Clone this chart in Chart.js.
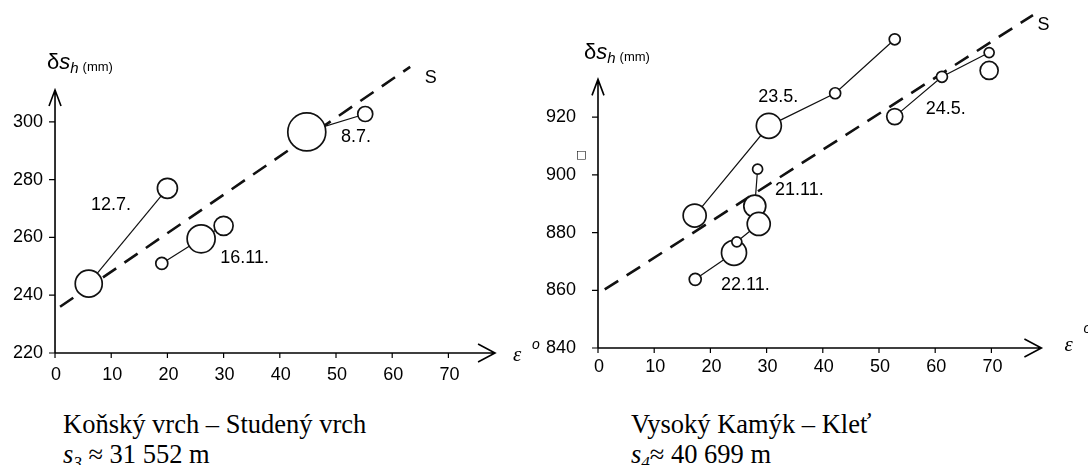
<!DOCTYPE html>
<html lang="cs">
<head>
<meta charset="UTF-8">
<title>δs_h – ε</title>
<script src="https://cdn.jsdelivr.net/npm/chart.js"></script>
<style>
  body { margin: 0; background: #fff; width: 1088px; height: 465px; position: relative; overflow: hidden; }
  canvas { position: absolute; top: 0; }
  .cap { position: absolute; font-family: "Liberation Serif", "Times New Roman", serif; font-size: 26.5px; line-height: 30px; color: #000; white-space: nowrap; }
  .cap sub { font-size: 17px; line-height: 0; vertical-align: -5px; font-style: italic; }
</style>
</head>
<body>
<canvas id="leftChart" width="540" height="400" style="left:0"></canvas>
<canvas id="rightChart" width="548" height="400" style="left:540px"></canvas>
<div class="cap" style="left:63px; top:409px">Koňský vrch – Studený vrch<br><i>s</i><sub>3</sub> ≈ 31 552 m</div>
<div class="cap" style="left:631px; top:409px">Vysoký Kamýk – Kleť<br><i>s</i><sub>4</sub>≈ 40 699 m</div>
<script>
// shared tick labels
const xTicks = [0, 10, 20, 30, 40, 50, 60, 70];
const leftYTicks = [220, 240, 260, 280, 300];
const rightYTicks = [840, 860, 880, 900, 920];

// Koňský vrch – Studený vrch (epsilon, delta s_h, circle size)
const k127Eps = [6, 20];
const k127Ds = [244, 277];
const k127Size = [13.5, 10];
const k1611Eps = [19, 26, 30];
const k1611Ds = [251, 259.5, 264];
const k1611Size = [6, 14, 9.5];
const k87Eps = [55.2, 44.8];
const k87Ds = [302.7, 296.5];
const k87Size = [7.5, 19];
const kSEps = [0.9, 63.2];
const kSDs = [236, 319];

// Vysoký Kamýk – Kleť
const v235Eps = [17.2, 30.4, 42.2, 52.8];
const v235Ds = [885.9, 917, 928.3, 947];
const v235Size = [11.5, 12.5, 5.5, 5.5];
const v245Eps = [52.8, 61.2, 69.6];
const v245Ds = [920.2, 934, 942.4];
const v245Size = [8, 5.5, 5];
const v245bEps = [69.6];
const v245bDs = [936.2];
const v245bSize = [9];
const v2111Eps = [28.4, 27.9, 28.6, 24.7];
const v2111Ds = [902, 889.2, 883, 876.8];
const v2111Size = [5, 11, 11.5, 5];
const v2211Eps = [24.2, 17.3];
const v2211Ds = [873, 863.8];
const v2211Size = [12.5, 6];
const vSEps = [1.2, 77.4];
const vSDs = [860.3, 955.4];

const FONT = '"Liberation Sans", Arial, sans-serif';

function pts(xs, ys) {
  return xs.map((x, i) => ({ x: x, y: ys[i] }));
}

function group(xs, ys, sizes) {
  return {
    data: pts(xs, ys),
    showLine: true,
    borderColor: '#111',
    borderWidth: 1.2,
    pointRadius: sizes,
    pointBorderWidth: 1.7,
    pointBorderColor: '#111',
    pointBackgroundColor: '#fff'
  };
}

function trend(xs, ys) {
  return {
    data: pts(xs, ys),
    showLine: true,
    borderColor: '#111',
    borderWidth: 2.6,
    borderDash: [16, 10],
    pointRadius: 0
  };
}

// axes with arrows, ticks and notes drawn on the chart's own scales
const sketchAxes = {
  id: 'sketchAxes',
  beforeDatasetsDraw(chart, args, o) {
    const ctx = chart.ctx;
    const xs = chart.scales.x, ys = chart.scales.y;
    const x0 = xs.getPixelForValue(0);
    const y0 = ys.getPixelForValue(o.yTicks[0]);
    const xEnd = xs.getPixelForValue(o.xArrow);
    const yEnd = ys.getPixelForValue(o.yArrow);
    ctx.save();
    ctx.strokeStyle = '#000';
    ctx.lineWidth = 1.6;
    ctx.beginPath();
    ctx.moveTo(x0, y0); ctx.lineTo(xEnd, y0);
    ctx.moveTo(x0, y0); ctx.lineTo(x0, yEnd);
    ctx.moveTo(xEnd - 17, y0 - 9); ctx.lineTo(xEnd, y0); ctx.lineTo(xEnd - 17, y0 + 9);
    ctx.moveTo(x0 - 6, yEnd + 16); ctx.lineTo(x0, yEnd); ctx.lineTo(x0 + 6, yEnd + 16);
    ctx.stroke();
    ctx.lineWidth = 1.2;
    ctx.beginPath();
    xTicks.forEach(v => { const p = xs.getPixelForValue(v); ctx.moveTo(p, y0); ctx.lineTo(p, y0 + 5); });
    o.yTicks.forEach(v => { const p = ys.getPixelForValue(v); ctx.moveTo(x0 - 6, p); ctx.lineTo(x0, p); });
    ctx.stroke();

    ctx.fillStyle = '#000';
    ctx.font = '18px ' + FONT;
    ctx.textBaseline = 'middle';
    ctx.textAlign = 'center';
    xTicks.forEach(v => ctx.fillText(String(v), xs.getPixelForValue(v) + 1, y0 + o.xLabelGap));
    ctx.textAlign = 'right';
    o.yTicks.forEach(v => ctx.fillText(String(v), x0 - o.yLabelGap, ys.getPixelForValue(v)));

    // axis titles
    ctx.textAlign = 'left';
    ctx.textBaseline = 'alphabetic';
    let tx = x0 + o.titleDx, ty = yEnd + o.titleDy;
    ctx.font = '22px ' + FONT;
    ctx.fillText('δ', tx, ty);
    tx += ctx.measureText('δ').width;
    ctx.font = 'italic 22px ' + FONT;
    ctx.fillText('s', tx, ty);
    tx += ctx.measureText('s').width;
    ctx.font = 'italic 15px ' + FONT;
    ctx.fillText('h', tx, ty + 4);
    tx += ctx.measureText('h').width + 4;
    ctx.font = '13px ' + FONT;
    ctx.fillText('(mm)', tx, ty + 2);

    ctx.textBaseline = 'middle';
    ctx.font = 'italic 21px "Liberation Serif", serif';
    ctx.fillText('ε', xEnd + o.epsDx, y0 + o.epsDy);
    ctx.font = 'italic 14px ' + FONT;
    ctx.fillText('o', xEnd + o.epsDx + 19, y0 + o.epsDy - o.degUp);
    ctx.restore();
  },
  afterDatasetsDraw(chart, args, o) {
    const ctx = chart.ctx;
    const xs = chart.scales.x, ys = chart.scales.y;
    ctx.save();
    ctx.fillStyle = '#000';
    ctx.textAlign = 'left';
    ctx.textBaseline = 'middle';
    o.notes.forEach(n => {
      ctx.font = n.font || ('18px ' + FONT);
      ctx.fillText(n.text, xs.getPixelForValue(n.x), ys.getPixelForValue(n.y));
    });
    ctx.restore();
  }
};

function makeChart(id, datasets, xMin, xMax, yMin, yMax, axisOpts) {
  return new Chart(document.getElementById(id), {
    type: 'scatter',
    data: { datasets: datasets },
    options: {
      responsive: false,
      animation: false,
      events: [],
      layout: { padding: 0, autoPadding: false },
      scales: {
        x: { type: 'linear', min: xMin, max: xMax, display: false },
        y: { type: 'linear', min: yMin, max: yMax, display: false }
      },
      plugins: { legend: { display: false }, tooltip: { enabled: false }, sketchAxes: axisOpts }
    },
    plugins: [sketchAxes]
  });
}

makeChart('leftChart', [
  group(k127Eps, k127Ds, k127Size),
  group(k1611Eps, k1611Ds, k1611Size),
  group(k87Eps, k87Ds, k87Size),
  trend(kSEps, kSDs)
], -9.79, 86.3, 203.74, 342.15, {
  yTicks: leftYTicks, xArrow: 78.3, yArrow: 311,
  xLabelGap: 22, yLabelGap: 12, titleDx: -8, titleDy: -21,
  epsDx: 18, epsDy: 2, degUp: 10,
  notes: [
    { text: '12.7.', x: 6.4, y: 271.2 },
    { text: '16.11.', x: 29.4, y: 252.9 },
    { text: '8.7.', x: 50.9, y: 294.7 },
    { text: 'S', x: 65.8, y: 315.2 }
  ]
});

makeChart('rightChart', [
  group(v235Eps, v235Ds, v235Size),
  group(v245Eps, v245Ds, v245Size),
  group(v245bEps, v245bDs, v245bSize),
  group(v2111Eps, v2111Ds, v2111Size),
  group(v2211Eps, v2211Ds, v2211Size),
  trend(vSEps, vSDs)
], -10.32, 87.19, 821.98, 960.62, {
  yTicks: rightYTicks, xArrow: 78.9, yArrow: 933.1,
  xLabelGap: 19, yLabelGap: 22, titleDx: -14, titleDy: -20,
  epsDx: 23, epsDy: -3, degUp: 16,
  notes: [
    { text: '23.5.', x: 28.5, y: 927.1 },
    { text: '24.5.', x: 58.3, y: 922.8 },
    { text: '21.11.', x: 31.5, y: 894.8 },
    { text: '22.11.', x: 21.9, y: 861.8 },
    { text: 'S', x: 78.2, y: 952 },
    { text: '□', x: -3.9, y: 906.9, font: '11px "DejaVu Sans", sans-serif' }
  ]
});
</script>
</body>
</html>
